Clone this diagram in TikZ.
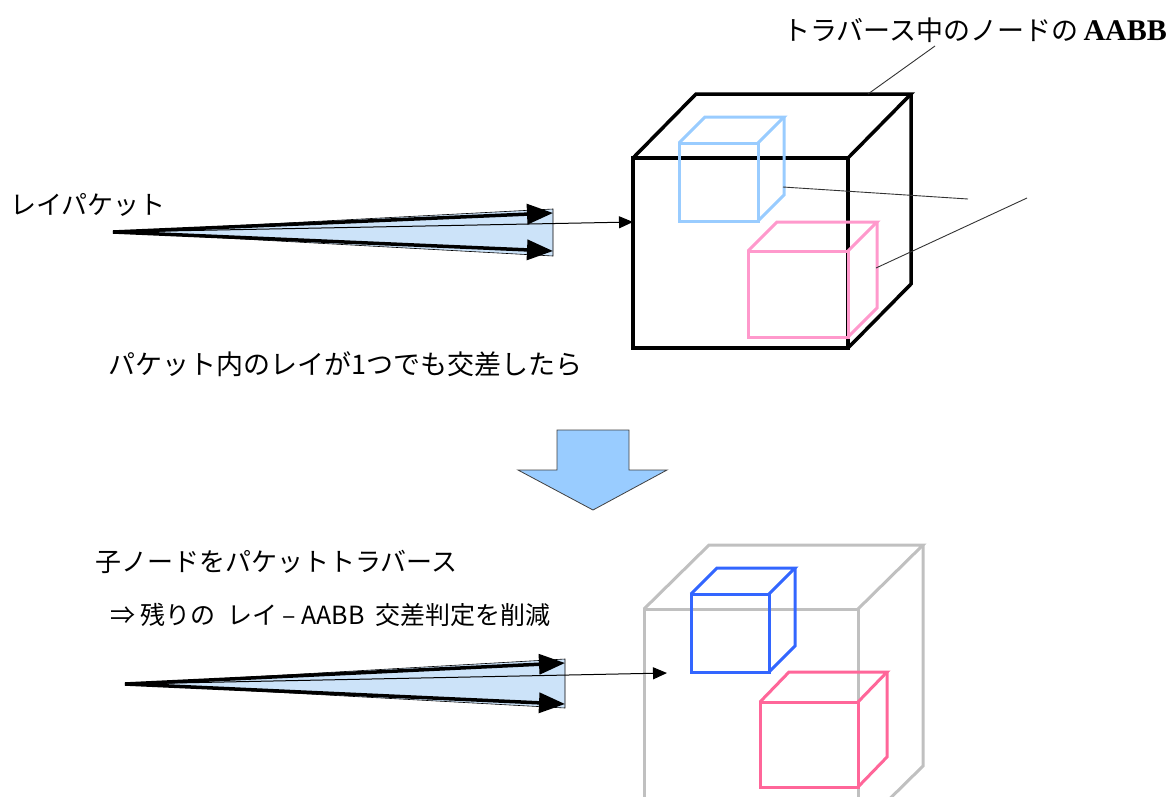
\documentclass[tikz,border=0pt]{standalone}
\usepackage{fontspec}
\setmainfont{Noto Sans CJK JP}
\newfontfamily\boldlatin{Liberation Serif}
\usetikzlibrary{arrows.meta,calc}

\definecolor{paleblue}{HTML}{99CCFF}
\definecolor{palepink}{HTML}{FF99CC}
\definecolor{boxblue}{HTML}{3366FF}
\definecolor{boxpink}{HTML}{FF6699}
\definecolor{boxgray}{HTML}{C0C0C0}
\definecolor{rayfill}{HTML}{CCE3F9}
\definecolor{flowfill}{HTML}{99CCFF}

% axis-aligned box drawn in oblique projection:
% #1 style, (#2,#3)-(#4,#5) front face, (#6,#7) depth offset (right, up)
\newcommand\aabbbox[7]{%
  \draw[#1] (#2,#3) rectangle (#4,#5);
  \draw[#1] (#2,#3) -- ++(#6,-#7) -- ([shift={(#6,-#7)}]#4,#3) -- (#4,#3);
  \draw[#1] ([shift={(#6,-#7)}]#4,#3) -- ([shift={(#6,-#7)}]#4,#5) -- (#4,#5);
}

\tikzset{
  nodebox/.style={line width=3.5pt, line join=miter, black},
  childbox/.style={line width=3pt, line join=miter},
  outerray/.style={line width=3.5pt, -{Triangle[length=26pt,width=20pt]}},
  centerray/.style={line width=1pt, -{Triangle[length=14pt,width=12pt]}},
  leader/.style={line width=0.9pt, black!80},
  jtext/.style={inner sep=0pt, anchor=west, font=\fontsize{26}{30}\selectfont},
}

\begin{document}
\begin{tikzpicture}[x=1pt, y=-1pt]
\clip (0,0) rectangle (1173,796);
\useasboundingbox (0,0) rectangle (1173,796);

% ---------- upper scene: node being traversed ----------
\aabbbox{nodebox}{633}{158}{848}{348}{63}{64}
\aabbbox{childbox, paleblue}{679}{143}{758}{221}{26}{26}
\aabbbox{childbox, palepink}{748}{251}{848}{337}{29}{29}

\coordinate (topedge) at (868,94);
\coordinate (labfoot) at (935,46);
\coordinate (bluepin) at (783,187);
\coordinate (blueend) at (968,199);
\coordinate (pinkpin) at (876,268);
\coordinate (pinkend) at (1027,198);
\draw[leader] (topedge) -- (labfoot);
\draw[leader] (bluepin) -- (blueend);
\draw[leader] (pinkpin) -- (pinkend);

\node[inner sep=0pt, anchor=west, font=\fontsize{27}{30}\selectfont] (nodelabel) at (783,30)
  {トラバース中のノードの{\boldlatin\bfseries\fontsize{30}{30}\selectfont\,AABB}};

% ray packet (upper)
\coordinate (o1) at (113,232);
\coordinate (u1) at (553,213);
\coordinate (l1) at (553,251);
\coordinate (h1) at (633,222);
\filldraw[fill=rayfill, draw=black, line width=0.6pt] (o1) -- (553,209) -- (553,256) -- cycle;
\draw[outerray] (o1) -- (u1);
\draw[outerray] (o1) -- (l1);
\draw[centerray] (o1) -- (h1);

\node[jtext] (packetlabel) at (10,205) {レイパケット};
\node[jtext, font=\fontsize{27}{30}\selectfont] (hitlabel) at (108,364) {パケット内のレイが1つでも交差したら};

% flow arrow
\filldraw[fill=flowfill, draw=black!75, line width=0.8pt]
  (557,430) -- (629,430) -- (629,470) -- (667,470) -- (593,510) -- (518,470) -- (557,470) -- cycle;

% ---------- lower scene: traversal of child nodes ----------
\aabbbox{childbox, boxgray}{644}{609}{858}{830}{65}{64}
\aabbbox{childbox, boxblue}{691}{594}{769}{672}{26}{26}
\aabbbox{childbox, boxpink}{760}{702}{858}{787}{29}{30}

\node[jtext] (childlabel) at (95,562) {子ノードをパケットトラバース};
\node[jtext, font=\fontsize{25}{28}\selectfont] (savelabel) at (110,615)
  {⇒ 残りの\ \ レイ – AABB\ \ 交差判定を削減};

% ray packet (lower)
\coordinate (o2) at (125,684);
\coordinate (u2) at (565,663);
\coordinate (l2) at (565,704);
\coordinate (h2) at (667,673);
\filldraw[fill=rayfill, draw=black, line width=0.6pt] (o2) -- (565,659) -- (565,708) -- cycle;
\draw[outerray] (o2) -- (u2);
\draw[outerray] (o2) -- (l2);
\draw[centerray] (o2) -- (h2);
\end{tikzpicture}
\end{document}
